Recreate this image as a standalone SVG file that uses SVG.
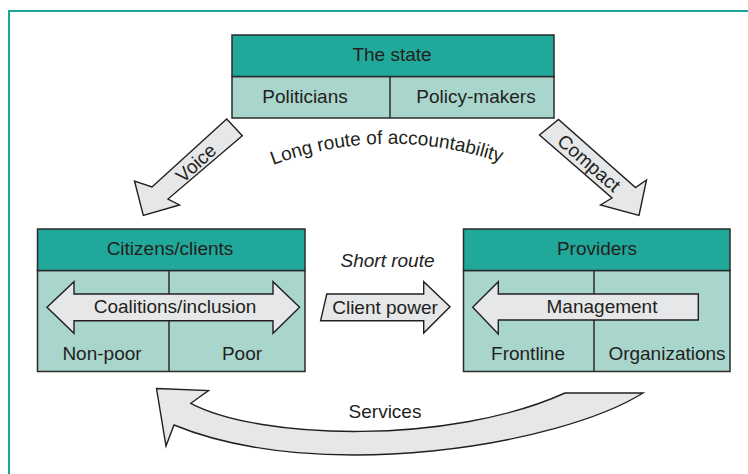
<svg xmlns="http://www.w3.org/2000/svg" width="748" height="474" viewBox="0 0 748 474">
<style>
.hdr{fill:#20a89a;stroke:#2b2b2b;stroke-width:1.5}
.body{fill:#a8d5cc;stroke:#2b2b2b;stroke-width:1.5}
.div{stroke:#2b2b2b;stroke-width:1.5;fill:none}
.arr{fill:#e6e7e8;stroke:#231f20;stroke-width:1.4;stroke-linejoin:miter}
.t{font-family:"Liberation Sans",Arial,sans-serif;font-size:19px;fill:#231f20;text-anchor:middle}
.it{font-style:italic}
</style>
<defs>
<path id="longArc" d="M 258 171 Q 385 118 516 168"/>
</defs>
<rect x="9" y="11" width="800" height="500" fill="#ffffff" stroke="#1fa595" stroke-width="2"/>

<g id="state">
<rect class="body" x="232" y="76.5" width="322" height="41.5"/>
<rect class="hdr" x="232" y="35" width="322" height="41.5"/>
<line class="div" x1="390" y1="76.5" x2="390" y2="118"/>
<text class="t" x="392" y="61">The state</text>
<text class="t" x="305" y="103">Politicians</text>
<text class="t" x="476" y="103">Policy-makers</text>
</g>

<g id="citizens">
<rect class="body" x="37.5" y="270.5" width="267.5" height="101"/>
<rect class="hdr" x="37.5" y="229" width="267.5" height="41.5"/>
<line class="div" x1="169" y1="270.5" x2="169" y2="371.5"/>
<polygon class="arr" points="47,307.3 74,281.7 74,294 273,294 273,281.7 299.6,307.3 273,333.3 273,320.7 74,320.7 74,333.3"/>
<text class="t" x="170" y="255">Citizens/clients</text>
<text class="t" x="175" y="313">Coalitions/inclusion</text>
<text class="t" x="102" y="360">Non-poor</text>
<text class="t" x="242" y="360">Poor</text>
</g>

<g id="providers">
<rect class="body" x="463.5" y="270.5" width="266.5" height="101"/>
<rect class="hdr" x="463.5" y="229" width="266.5" height="41.5"/>
<line class="div" x1="594" y1="270.5" x2="594" y2="371.5"/>
<polygon class="arr" points="472.7,307.3 498.3,281.7 498.3,294 698.3,294 698.3,320 498.3,320 498.3,334"/>
<text class="t" x="597" y="255">Providers</text>
<text class="t" x="602" y="313">Management</text>
<text class="t" x="528" y="360">Frontline</text>
<text class="t" x="667" y="360">Organizations</text>
</g>

<g id="connectors">
<g id="voice">
<polygon class="arr" points="226.7,119 242.3,135.7 168,199 179.5,205 143.3,215.5 134.5,181 152,187"/>
<text class="t" transform="translate(196,163) rotate(-42)" y="6.5" font-size="19.5">Voice</text>
</g>
<g id="compact">
<polygon class="arr" points="539.5,135 558.5,119.5 635.5,187.5 646.5,180 639,215.5 600.5,205 612,198"/>
<text class="t" transform="translate(589,163) rotate(41)" y="6.5" font-size="20.5">Compact</text>
</g>
<text id="long-route" class="t" font-size="19.5"><textPath href="#longArc" startOffset="50%">Long route of accountability</textPath></text>
<g id="short-route">
<text class="t it" x="387.5" y="267">Short route</text>
<polygon class="arr" points="326.8,294 423.7,294 423.7,281.7 450,306.7 423.7,333 423.7,320.7 320.6,320.7"/>
<text class="t" x="385" y="314">Client power</text>
</g>
<g id="services">
<path class="arr" d="M 156.5 388.5 L 208.5 390.5 L 190.8 403.3 C 260 440 450 445 565 393 L 643 393 C 560 445 320 485 174 425 L 166 446 Z"/>
<text class="t" x="385" y="418">Services</text>
</g>
</g>
</svg>
